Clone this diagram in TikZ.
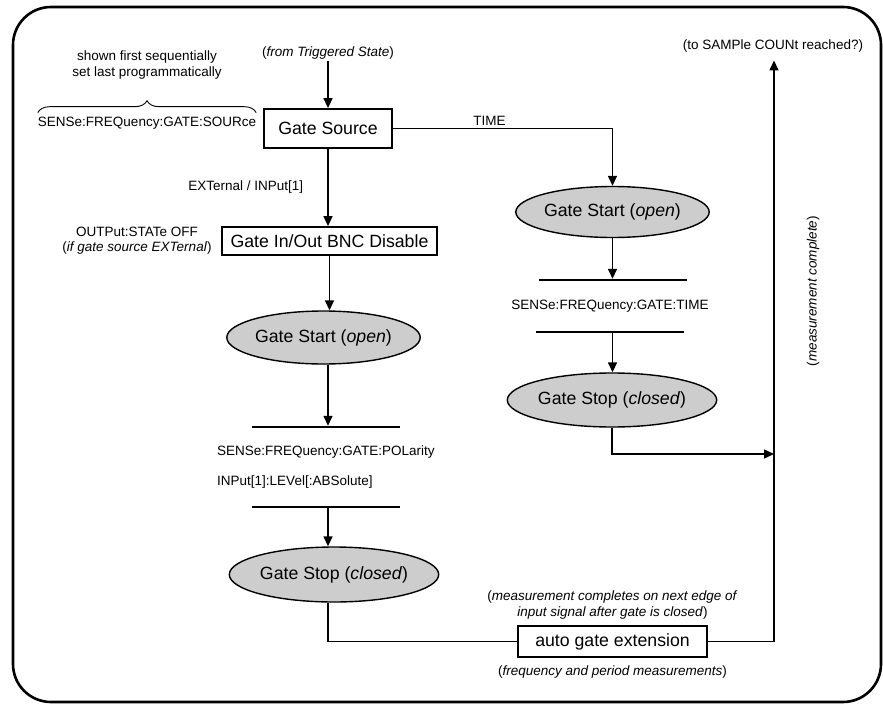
\documentclass[tikz,border=0pt]{standalone}
\usepackage{fontspec}
\setmainfont{Liberation Sans}
\usetikzlibrary{shapes.geometric, arrows.meta, positioning, decorations.pathreplacing}
\definecolor{statefill}{HTML}{CDCDCD}
\definecolor{inkdark}{HTML}{000000}

\begin{document}
\begin{tikzpicture}[
    x=1pt, y=-1pt,
    % ── Node styles ──────────────────────────────────────────────────────
    base/.style={
        draw=inkdark, inner sep=0pt, align=center,
        font=\fontsize{17.7}{21}\selectfont,
        line width=1.8pt
    },
    boxnode/.style={
        base, rectangle, fill=white
    },
    statenode/.style={
        base, ellipse, fill=statefill, line width=1.4pt,
        minimum width=180pt, minimum height=53pt
    },
    barnode/.style={
        fill=inkdark, inner sep=0pt,
        minimum height=2pt, minimum width=148pt
    },
    note/.style={
        font=\fontsize{13.5}{15.5}\selectfont,
        text=inkdark, align=center, inner sep=2pt
    },
    % ── Connector styles ─────────────────────────────────────────────────
    wire/.style={
        line width=1.5pt, color=inkdark
    },
    arr/.style={
        wire, -{Triangle[length=10pt, width=9pt]}
    },
    curly/.style={
        decorate, decoration={brace, amplitude=12pt},
        line width=0.9pt, color=inkdark
    },
    frame/.style={
        line width=2.6pt, rounded corners=38pt, color=inkdark
    }
]

\path[fill=white, use as bounding box] (0,0) rectangle (883,704);

% ═══════════════════════════════════════════════════════════════════════════
% Left column — gate source and external gate
% ═══════════════════════════════════════════════════════════════════════════
\node[note] (fromtrig) at (328,53) {(\textit{from Triggered State})};

\node[boxnode, minimum width=128pt, minimum height=39pt] (src)
    at (328,128.5) {Gate Source};

\node[note] (seqnote) at (147,65)
    {shown first sequentially\\set last programmatically};
\node[note, inner sep=0pt] (srccmd) at (147,123)
    {SENSe:FREQuency:GATE:SOURce};

\node[boxnode, minimum width=215pt, minimum height=28pt] (bnc)
    at (329.5,241) {Gate In/Out BNC Disable};
\node[note] (bncnote) at (137,240.5)
    {OUTPut:STATe OFF\\(\textit{if gate source EXTernal})};

\node[statenode] (startL) at (323.5,337.5) {Gate Start (\textit{open})};

\node[barnode] (barLa) at (326,427) {};
\node[note, anchor=west] (polcmd) at (215,452)
    {SENSe:FREQuency:GATE:POLarity};
\node[note, anchor=west] (lvlcmd) at (215,482)
    {INPut[1]:LEVel[:ABSolute]};
\node[barnode] (barLb) at (326,507) {};

\node[statenode, minimum width=178pt, minimum height=55pt] (stopL)
    at (334,574.5) {Gate Stop (\textit{closed})};

% ═══════════════════════════════════════════════════════════════════════════
% Right column — gate time
% ═══════════════════════════════════════════════════════════════════════════
\node[statenode, minimum height=51pt] (startR) at (612.5,212)
    {Gate Start (\textit{open})};

\node[barnode] (barRa) at (612.5,280) {};
\node[note] (timecmd) at (610,306) {SENSe:FREQuency:GATE:TIME};
\node[barnode] (barRb) at (610,332) {};

\node[statenode, minimum width=176pt, minimum height=54pt] (stopR)
    at (612,400) {Gate Stop (\textit{closed})};

% ═══════════════════════════════════════════════════════════════════════════
% Bottom — auto gate extension and exit
% ═══════════════════════════════════════════════════════════════════════════
\node[boxnode, minimum width=189pt, minimum height=31pt] (autog)
    at (612.5,641.5) {auto gate extension};
\node[note, above=4pt of autog] (autonote)
    {(\textit{measurement completes on next edge of}\\
     \textit{input signal after gate is closed})};
\node[note, below=6pt of autog] (freqnote)
    {(\textit{frequency and period measurements})};

\node[note] (sampl) at (773,46) {(to SAMPle COUNt reached?)};
\coordinate (join) at (774,454);
\node[note, rotate=90] (meascpl) at (813,291) {(\textit{measurement complete})};

% Connectors
\draw[arr] (fromtrig.south -| src.north) -- (src.north);
\draw[arr] (src.south) -- (bnc.north -| src.south)
    node[note, midway, left=22pt] (extlbl) {EXTernal / INPut[1]};
\draw[arr] (src.east) -| node[note, pos=0.22, above] (timelbl) {TIME}
    (startR.north);
\draw[arr] (bnc.south) -- (startL.north -| bnc.south);
\draw[arr] (startL.south -| src.south) -- (barLa.north -| src.south);
\draw[arr] (barLb.south -| src.south) -- (stopL.north -| src.south);
\draw[wire] (stopL.south -| src.south) |- (autog.west);
\draw[wire] (autog.east) -| (join);
\draw[arr, shorten >=6pt] (join) -- (sampl.south -| join);

\draw[arr] (startR.south) -- (barRa.north -| startR.south);
\draw[arr] (barRb.south -| startR.south) -- (stopR.north -| startR.south);
\draw[arr] (stopR.south) |- (join);

% Brace over the source command
\draw[curly] ([yshift=4pt]srccmd.north west) -- ([yshift=4pt]srccmd.north east);

% Outer frame
\draw[frame] (13,7) rectangle (881,702);

\end{tikzpicture}
\end{document}
